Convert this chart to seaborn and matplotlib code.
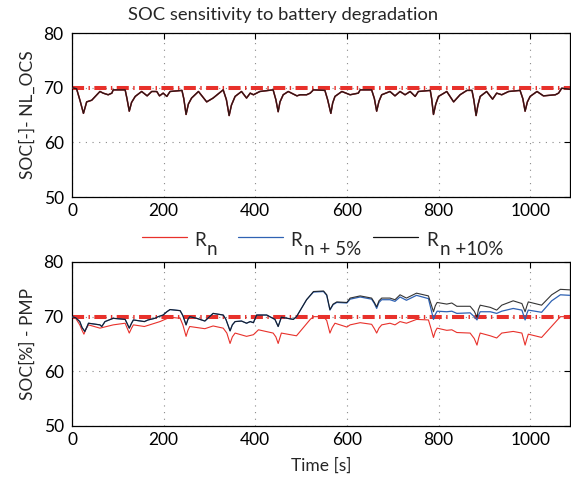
import matplotlib
matplotlib.use("Agg")
import matplotlib.pyplot as plt
from matplotlib.lines import Line2D
import seaborn as sns

# --- NL_OCS strategy: SOC over time (all three resistance cases coincide) ---
t_ocs = [0, 10, 18, 25, 32, 43, 61, 68, 79, 87, 90, 116, 120, 125, 130, 138, 152, 164, 174,
         185, 191, 199, 207, 214, 240, 244, 249, 254, 261, 276, 294, 308, 330, 337, 343, 348,
         356, 370, 381, 389, 396, 410, 439, 445, 450, 454, 461, 472, 491, 498, 512, 520, 527,
         552, 558, 565, 569, 574, 589, 607, 625, 629, 654, 660, 665, 670, 676, 694, 705, 716,
         727, 738, 749, 756, 782, 785, 789, 794, 800, 818, 833, 847, 862, 873, 877, 882, 886,
         891, 905, 918, 927, 938, 953, 978, 984, 989, 994, 1000, 1015, 1029, 1055, 1062, 1069,
         1087]
soc_ocs = [70.0, 69.8, 67.5, 65.3, 67.4, 67.7, 69.3, 69.0, 68.7, 69.0, 69.6, 69.6, 68.0, 65.7,
           67.3, 68.4, 69.3, 68.5, 69.3, 69.3, 68.5, 69.0, 68.4, 69.3, 69.5, 68.0, 65.1, 67.0,
           68.1, 69.3, 67.4, 68.1, 69.6, 67.8, 64.9, 66.8, 68.4, 69.3, 68.1, 69.0, 68.7, 69.3,
           69.6, 67.8, 65.6, 67.4, 68.7, 69.3, 68.5, 68.7, 68.7, 69.0, 69.6, 69.5, 67.8, 65.3,
           67.2, 68.4, 69.3, 68.7, 69.0, 69.6, 69.6, 68.0, 65.7, 67.5, 68.7, 69.3, 68.5, 69.3,
           68.7, 69.3, 68.4, 69.3, 69.5, 68.0, 65.1, 67.0, 68.4, 69.3, 67.4, 68.7, 69.5, 69.5,
           67.8, 64.9, 66.8, 68.4, 69.3, 67.9, 69.0, 68.7, 69.3, 69.5, 68.0, 65.7, 67.4, 68.4,
           69.3, 68.5, 68.7, 69.0, 69.9, 69.7]

# --- PMP strategy: SOC over time for each resistance case ---
t_pmp_rn = [0, 8, 17, 22, 26, 31, 36, 61, 90, 116, 120, 125, 130, 134, 158, 192, 214, 236, 242,
            249, 253, 257, 290, 308, 330, 338, 345, 350, 356, 381, 396, 407, 439, 445, 450, 454,
            457, 490, 498, 520, 527, 549, 556, 563, 568, 574, 600, 607, 629, 654, 660, 665, 670,
            676, 694, 705, 716, 730, 752, 778, 783, 789, 793, 797, 818, 829, 840, 869, 878, 884,
            888, 891, 913, 927, 938, 963, 982, 989, 993, 996, 1025, 1066, 1087]
soc_pmp_rn = [70.0, 69.7, 68.5, 67.5, 66.8, 67.8, 68.5, 67.9, 68.5, 68.8, 68.0, 67.0, 67.9, 68.5,
              68.2, 69.1, 69.9, 69.7, 68.5, 66.4, 67.5, 68.2, 67.8, 68.3, 67.9, 67.0, 65.1, 66.3,
              67.0, 66.4, 66.7, 67.6, 67.0, 66.3, 65.1, 66.2, 67.0, 66.5, 67.3, 69.5, 70.0, 70.0,
              69.3, 67.0, 68.0, 68.8, 68.1, 68.5, 68.9, 68.6, 67.8, 67.0, 67.9, 68.5, 68.8, 68.5,
              69.1, 68.8, 69.5, 69.4, 68.0, 66.2, 67.3, 67.9, 67.5, 67.6, 67.1, 67.0, 66.0, 64.8,
              66.2, 67.0, 66.5, 66.1, 67.0, 67.3, 67.0, 64.8, 66.0, 66.8, 66.2, 70.0, 70.0]

t_pmp = [0, 8, 17, 22, 28, 33, 36, 61, 65, 72, 90, 116, 120, 125, 130, 134, 158, 166, 181, 188,
         199, 207, 214, 236, 242, 249, 253, 257, 272, 290, 308, 330, 336, 345, 350, 356, 370, 381,
         389, 396, 403, 425, 443, 450, 457, 483, 490, 512, 527, 549, 556, 563, 570, 578, 600, 607,
         629, 654, 660, 665, 670, 676, 694, 705, 716, 730, 752, 778, 783, 789, 793, 797, 818, 829,
         840, 869, 878, 884, 887, 891, 913, 927, 938, 963, 982, 989, 993, 996, 1025, 1047, 1066,
         1087]
soc_pmp_r5 = [70.0, 69.8, 69.1, 68.0, 67.3, 68.2, 68.8, 68.5, 68.2, 69.1, 69.7, 69.5, 68.8, 67.9,
              68.8, 69.4, 69.1, 69.4, 69.7, 70.0, 70.3, 70.9, 71.3, 71.1, 70.2, 68.5, 69.5, 70.0,
              69.7, 69.2, 70.6, 70.3, 69.5, 67.4, 68.5, 69.1, 69.2, 68.8, 69.1, 68.9, 70.3, 70.3,
              69.5, 68.2, 69.9, 69.5, 70.0, 73.1, 74.5, 74.6, 73.9, 71.2, 72.2, 72.6, 72.5, 73.2,
              73.6, 73.2, 72.4, 71.5, 72.6, 73.1, 73.1, 72.8, 73.6, 73.0, 73.9, 73.3, 71.6, 69.5,
              70.4, 71.0, 70.9, 71.0, 70.6, 70.7, 70.0, 69.4, 70.2, 70.9, 70.9, 70.6, 71.0, 71.5,
              71.2, 69.4, 70.6, 71.2, 70.8, 72.9, 74.0, 73.9]
soc_pmp_r10 = [70.0, 69.8, 69.1, 68.0, 67.3, 68.2, 68.8, 68.5, 68.2, 69.1, 69.7, 69.5, 68.8, 67.9,
               68.8, 69.4, 69.1, 69.4, 69.7, 70.0, 70.3, 70.9, 71.3, 71.1, 70.2, 68.5, 69.5, 70.0,
               69.7, 69.2, 70.6, 70.3, 69.5, 67.4, 68.5, 69.1, 69.2, 68.8, 69.1, 68.9, 70.3, 70.3,
               69.5, 68.2, 69.9, 69.5, 70.0, 73.1, 74.6, 74.7, 74.0, 71.3, 72.3, 72.7, 72.6, 73.4,
               73.8, 73.4, 72.6, 71.8, 72.9, 73.4, 73.4, 73.1, 74.0, 73.4, 74.3, 73.8, 72.5, 70.9,
               72.0, 72.6, 72.3, 72.5, 71.9, 71.9, 71.0, 69.9, 71.3, 72.1, 71.7, 71.2, 72.1, 72.9,
               72.4, 70.9, 72.0, 72.7, 72.1, 74.0, 75.0, 74.9]

soc_target = 70.0
series_base = ["R", "R", "R"]
series_sub = ["n", "n + 5%", "n +10%"]
y_ticks = [50, 60, 70, 80]
x_ticks = [0, 200, 400, 600, 800, 1000]

RED = "#e8312b"
BLUE = "#2f62b3"
BLACK = "#111111"

sns.set_theme(style="white")
plt.rcParams["font.family"] = ["Lato", "DejaVu Sans"]

fig = plt.figure(figsize=(5.71, 4.8), dpi=100)
W, H = 571, 480
ax_top = fig.add_axes([72 / W, 1 - 197 / H, 498 / W, 164 / H])
ax_bot = fig.add_axes([72 / W, 1 - 426 / H, 498 / W, 164 / H])


def style_axes(ax, ylabel):
    ax.set_xlim(0, 1087)
    ax.set_ylim(50, 80)
    ax.set_xticks(x_ticks)
    ax.set_yticks(y_ticks)
    ax.grid(True, linestyle=(0, (1, 5)), color="#8a8a8a", lw=0.8)
    ax.tick_params(direction="in", length=4, width=0.8, top=True, right=True,
                   labelsize=12.5, colors="black", pad=4)
    ax.tick_params(axis="y", pad=6)
    for s in ax.spines.values():
        s.set_color("black")
        s.set_linewidth(0.9)
    ax.set_ylabel(ylabel, fontsize=12.5)
    ax.yaxis.set_label_coords(-0.072, 0.5)
    ax.axhline(soc_target, color=RED, lw=2.9, dashes=(3.0, 1.1, 0.35, 1.1),
               dash_capstyle="butt", zorder=1)


style_axes(ax_top, "SOC[-]- NL_OCS")
style_axes(ax_bot, "SOC[%] - PMP")

# top panel: identical trajectories for the three cases
sns.lineplot(x=t_ocs, y=soc_ocs, ax=ax_top, color=BLUE, lw=0.8, estimator=None, zorder=3)
sns.lineplot(x=t_ocs, y=soc_ocs, ax=ax_top, color=RED, lw=1.1, estimator=None, zorder=3)
sns.lineplot(x=t_ocs, y=soc_ocs, ax=ax_top, color=BLACK, lw=1.0, alpha=0.85,
             estimator=None, zorder=4)
ax_top.set_xlabel("")

# bottom panel
sns.lineplot(x=t_pmp_rn, y=soc_pmp_rn, ax=ax_bot, color=RED, lw=0.8, estimator=None, zorder=3)
sns.lineplot(x=t_pmp, y=soc_pmp_r5, ax=ax_bot, color=BLUE, lw=0.9, estimator=None, zorder=3)
sns.lineplot(x=t_pmp, y=soc_pmp_r10, ax=ax_bot, color=BLACK, lw=0.8, alpha=0.85,
             estimator=None, zorder=4)
ax_bot.set_xlabel("Time [s]", fontsize=12.5)
ax_bot.xaxis.set_label_coords(0.5, -0.19)

# legend between the panels: sample line, "R", and a full-size subscript
legend_colors = [RED, BLUE, BLACK]
legend_x = [(142, 187, 194, 207), (238, 283, 290, 304), (373, 418, 426, 440)]
for color, (x0, x1, xr, xs), base, sub in zip(legend_colors, legend_x, series_base, series_sub):
    fig.add_artist(Line2D([x0 / W, x1 / W], [1 - 237 / H] * 2, color=color, lw=0.9,
                          transform=fig.transFigure))
    fig.text(xr / W, 1 - 246 / H, base, ha="left", va="baseline", fontsize=13.5)
    fig.text(xs / W, 1 - 255 / H, sub, ha="left", va="baseline", fontsize=13.5)

fig.text(283 / W, 1 - 15 / H, "SOC sensitivity to battery degradation",
         ha="center", va="center", fontsize=13.2)

fig.savefig("out.png", dpi=100)
